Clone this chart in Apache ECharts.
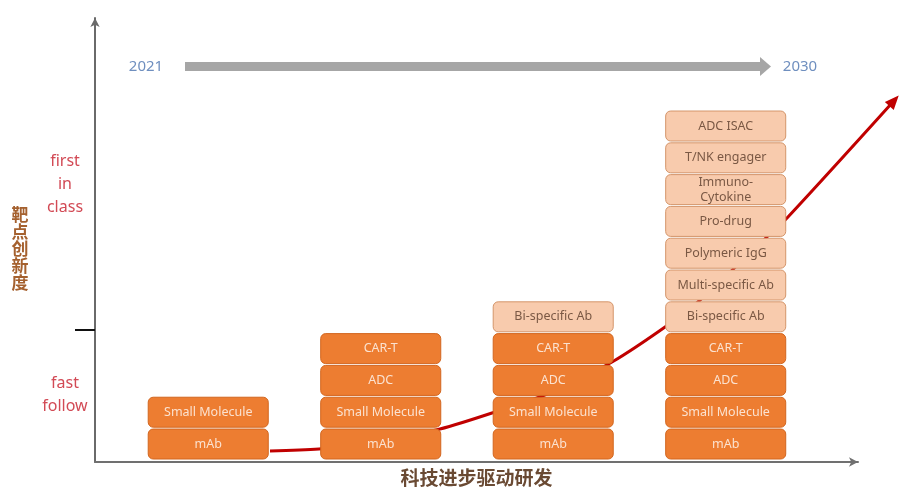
<!DOCTYPE html>
<html>
<head>
<meta charset="utf-8">
<script src="https://cdn.jsdelivr.net/npm/echarts@6/dist/echarts.min.js"></script>
<style>
html,body{margin:0;padding:0;background:#fff;}
#chart{width:900px;height:487px;}
</style>
</head>
<body>
<div id="chart"></div>
<script>
// ---- data ----
const boxColumns = [
  ['mAb', 'Small Molecule'],
  ['mAb', 'Small Molecule', 'ADC', 'CAR-T'],
  ['mAb', 'Small Molecule', 'ADC', 'CAR-T', 'Bi-specific Ab'],
  ['mAb', 'Small Molecule', 'ADC', 'CAR-T', 'Bi-specific Ab', 'Multi-specific Ab', 'Polymeric IgG', 'Pro-drug', 'Immuno-\nCytokine', 'T/NK engager', 'ADC ISAC']
];
const firstInClassItems = ['Bi-specific Ab', 'Multi-specific Ab', 'Polymeric IgG', 'Pro-drug', 'Immuno-\nCytokine', 'T/NK engager', 'ADC ISAC'];
const curveX = [0.358, 0.642, 0.996, 1.3435, 1.645, 1.993, 2.341, 2.665, 2.851, 3.245, 3.361, 3.964];
const curveY = [0.252, 0.314, 0.535, 0.943, 1.447, 2.107, 3.050, 4.214, 5.0, 7.013, 7.61, 11.195];
const yLevelLabels = ['fast\nfollow', 'first\nin\nclass'];
const yLevelValues = [2.03, 8.62];
const yDividerValues = [4.057];
const timelineYears = ['2021', '2030'];
const xAxisName = '科技进步驱动研发';
const yAxisName = '靶点创新度';

// ---- build ----
const boxData = [];
const boxLabels = [];
boxColumns.forEach((col, ci) => {
  col.forEach((label, ri) => {
    boxData.push([ci, ri]);
    boxLabels.push(label);
  });
});
const curveData = curveX.map((x, i) => [x, curveY[i]]);

const chart = echarts.init(document.getElementById('chart'), null, {renderer: 'canvas'});

const BOX_HALF_W = 0.348;
const BOX_H = 0.943;

const option = {
  animation: false,
  backgroundColor: '#ffffff',
  grid: {left: 95, right: 42, top: 18, bottom: 25, containLabel: false, outerBoundsMode: 'none'},
  xAxis: {
    type: 'value',
    min: -0.6565,
    max: 3.767,
    name: xAxisName,
    nameLocation: 'middle',
    nameGap: 6,
    nameTextStyle: {
      fontFamily: 'Noto Sans CJK SC',
      fontSize: 19,
      fontWeight: 'bold',
      color: '#6a4a33',
      verticalAlign: 'top'
    },
    axisLine: {
      show: true,
      onZero: false,
      symbol: ['none', 'arrow'],
      symbolSize: [7, 9],
      lineStyle: {color: '#707070', width: 2}
    },
    axisTick: {show: false},
    axisLabel: {show: false},
    splitLine: {show: false}
  },
  yAxis: {
    type: 'value',
    min: -0.094,
    max: 13.868,
    name: '\n' + yAxisName.split('').join('\n'),
    nameLocation: 'middle',
    nameRotate: 0,
    nameGap: 75,
    nameTextStyle: {
      fontFamily: 'Noto Sans CJK SC',
      fontSize: 17,
      fontWeight: 'bold',
      color: '#a5612f',
      lineHeight: 17,
      align: 'center',
      verticalAlign: 'middle'
    },
    axisLine: {
      show: true,
      onZero: false,
      symbol: ['none', 'arrow'],
      symbolSize: [7, 9],
      lineStyle: {color: '#6a6a6a', width: 2}
    },
    axisTick: {
      show: true,
      customValues: yDividerValues,
      length: 20,
      lineStyle: {color: '#111', width: 2}
    },
    axisLabel: {
      show: true,
      customValues: yLevelValues,
      formatter: function (v) {
        const i = yLevelValues.indexOf(v);
        return i >= 0 ? yLevelLabels[i] : '';
      },
      align: 'center',
      margin: 30,
      fontFamily: 'Noto Sans',
      fontSize: 16,
      lineHeight: 23,
      color: '#d24a55'
    },
    splitLine: {show: false}
  },
  graphic: [
    {
      type: 'rect',
      shape: {x: 185, y: 62, width: 576, height: 9},
      style: {fill: '#a6a6a6'},
      z: 1
    },
    {
      type: 'polygon',
      shape: {points: [[760, 57], [771, 66.5], [760, 76]]},
      style: {fill: '#a6a6a6'},
      z: 1
    },
    {
      type: 'text',
      x: 146, y: 67,
      style: {text: timelineYears[0], font: '15px "Noto Sans"', fill: '#6f8fbf', align: 'center', verticalAlign: 'middle'}
    },
    {
      type: 'text',
      x: 800, y: 67,
      style: {text: timelineYears[1], font: '15px "Noto Sans"', fill: '#6f8fbf', align: 'center', verticalAlign: 'middle'}
    }
  ],
  series: [
    {
      type: 'custom',
      data: [0],
      clip: false,
      z: 2,
      silent: true,
      renderItem: function (params, api) {
        const pts = curveData.map(p => api.coord(p));
        const a = pts[pts.length - 2];
        const b = pts[pts.length - 1];
        const dx = b[0] - a[0], dy = b[1] - a[1];
        const len = Math.sqrt(dx * dx + dy * dy);
        const ux = dx / len, uy = dy / len;
        const px = -uy, py = ux;
        const tip = [b[0] + ux * 10, b[1] + uy * 10];
        const base = [b[0] - ux * 4, b[1] - uy * 4];
        const w = 6;
        return {
          type: 'group',
          children: [
            {
              type: 'polyline',
              shape: {points: pts, smooth: 0.3},
              style: {stroke: '#c00000', lineWidth: 3, fill: null}
            },
            {
              type: 'polygon',
              shape: {points: [tip, [base[0] + px * w, base[1] + py * w], [base[0] - px * w, base[1] - py * w]]},
              style: {fill: '#c00000'}
            }
          ]
        };
      }
    },
    {
      type: 'custom',
      data: boxData,
      encode: {x: 0, y: 1},
      z: 3,
      silent: true,
      renderItem: function (params, api) {
        const x = api.value(0), y = api.value(1);
        const p0 = api.coord([x - BOX_HALF_W, y + BOX_H]);
        const p1 = api.coord([x + BOX_HALF_W, y]);
        const label = boxLabels[params.dataIndex];
        const light = firstInClassItems.indexOf(label) >= 0;
        return {
          type: 'rect',
          shape: {x: p0[0], y: p0[1], width: p1[0] - p0[0], height: p1[1] - p0[1], r: 5},
          style: {
            fill: light ? '#f8cbad' : '#ed7d31',
            stroke: light ? '#d4956a' : '#d2661f',
            lineWidth: 1
          },
          textContent: {
            style: {
              text: label,
              fill: light ? '#7a5844' : '#fbe2d0',
              font: '12.5px "Noto Sans"',
              lineHeight: 15,
              align: 'center',
              verticalAlign: 'middle'
            }
          },
          textConfig: {position: 'inside'}
        };
      }
    }
  ]
};
chart.setOption(option);
</script>
</body>
</html>
